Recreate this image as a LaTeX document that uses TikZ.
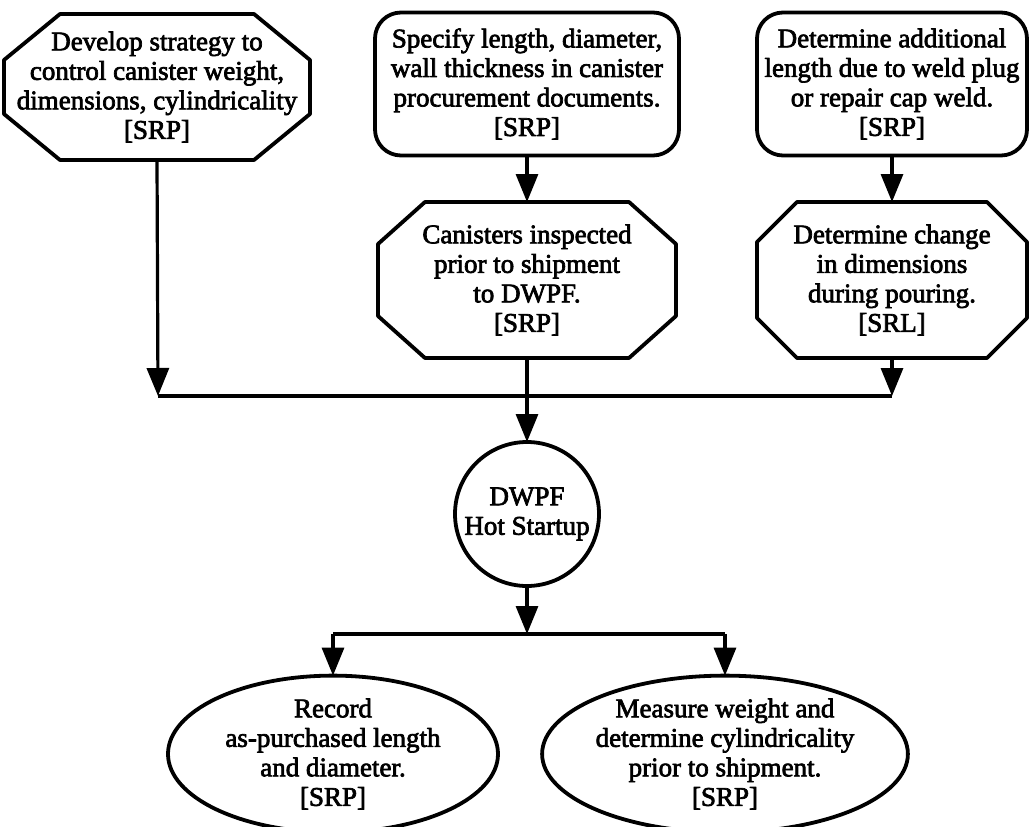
\documentclass[tikz,border=0pt]{standalone}
\usepackage{fontspec}
\setmainfont{Liberation Serif}
\newfontfamily\heavyserif{Liberation Serif}[FakeBold=2.6]
\usetikzlibrary{arrows.meta,shapes.geometric}

\tikzset{
  txt/.style={align=center,font=\heavyserif\fontsize{27}{29.5}\selectfont,inner sep=0pt,outer sep=0pt},
  boxline/.style={line width=3.8pt,line join=round},
  octbase/.style={txt,draw=none},
  roundbox/.style={txt,draw,boxline,rounded corners=26pt},
  disc/.style={txt,draw,boxline,circle,minimum size=144pt},
  oval/.style={txt,draw,boxline,ellipse},
  link/.style={line width=3.2pt},
  arrow/.style={link,-{Triangle[length=28pt,width=22pt]}},
}

% octagonal frame around a rectangular node: #1 node, #2 horizontal cut, #3 vertical cut
\newcommand\octframe[3]{%
  \draw[boxline] ([xshift=#2]#1.north west) -- ([xshift=-#2]#1.north east)
    -- ([yshift=-#3]#1.north east) -- ([yshift=#3]#1.south east)
    -- ([xshift=-#2]#1.south east) -- ([xshift=#2]#1.south west)
    -- ([yshift=#3]#1.south west) -- ([yshift=-#3]#1.north west) -- cycle;}

\begin{document}
\begin{tikzpicture}[x=1pt,y=-1pt]
  \fill[white] (0,0) rectangle (1029,827);
  \useasboundingbox (0,0) rectangle (1029,827);

  % top row
  \node[octbase,minimum width=306pt,minimum height=146pt] (A) at (157,87)
    {Develop strategy to\\control canister weight,\\dimensions, cylindricality\\{[SRP]}};
  \octframe{A}{56pt}{46pt}
  \node[roundbox,minimum width=304pt,minimum height=143pt] (B) at (527,84)
    {Specify length, diameter,\\wall thickness in canister\\procurement documents.\\{[SRP]}};
  \node[roundbox,minimum width=270pt,minimum height=143pt] (C) at (892,84)
    {Determine additional\\length due to weld plug\\or repair cap weld.\\{[SRP]}};

  % second row
  \node[octbase,minimum width=298pt,minimum height=156pt] (D) at (527,280)
    {Canisters inspected\\prior to shipment\\to DWPF.\\{[SRP]}};
  \octframe{D}{47pt}{42pt}
  \node[octbase,minimum width=270pt,minimum height=156pt] (E) at (892,280)
    {Determine change\\in dimensions\\during pouring.\\{[SRL]}};
  \octframe{E}{40pt}{40pt}

  % milestone
  \node[disc] (F) at (527,514) {DWPF\\Hot Startup};

  % bottom row
  \node[oval,minimum width=330pt,minimum height=143pt] (G) at (333,754)
    {Record\\as-purchased length\\and diameter.\\{[SRP]}};
  \node[oval,minimum width=328pt,minimum height=143pt] (H) at (725,754)
    {Measure weight and\\determine cylindricality\\prior to shipment.\\{[SRP]}};

  % junction points
  \coordinate (jL) at (158,396);
  \coordinate (jM) at (527,396);
  \coordinate (jR) at (892,396);
  \coordinate (kM) at (527,634);
  \coordinate (kL) at (333,634);
  \coordinate (kR) at (725,634);

  % connectors
  \draw[arrow] (B.south) -- (D.north);
  \draw[arrow] (C.south) -- (E.north);
  \draw[arrow] (A.south) -- (jL);
  \draw[arrow] (E.south) -- (jR);
  \draw[link] (jL) -- (jR);
  \draw[link] (D.south) -- (jM);
  \draw[arrow] (jM) -- (F.north);
  \draw[arrow] (F.south) -- (kM);
  \draw[link] (kL) -- (kR);
  \draw[arrow] (kL) -- (G.north);
  \draw[arrow] (kR) -- (H.north);
\end{tikzpicture}
\end{document}
